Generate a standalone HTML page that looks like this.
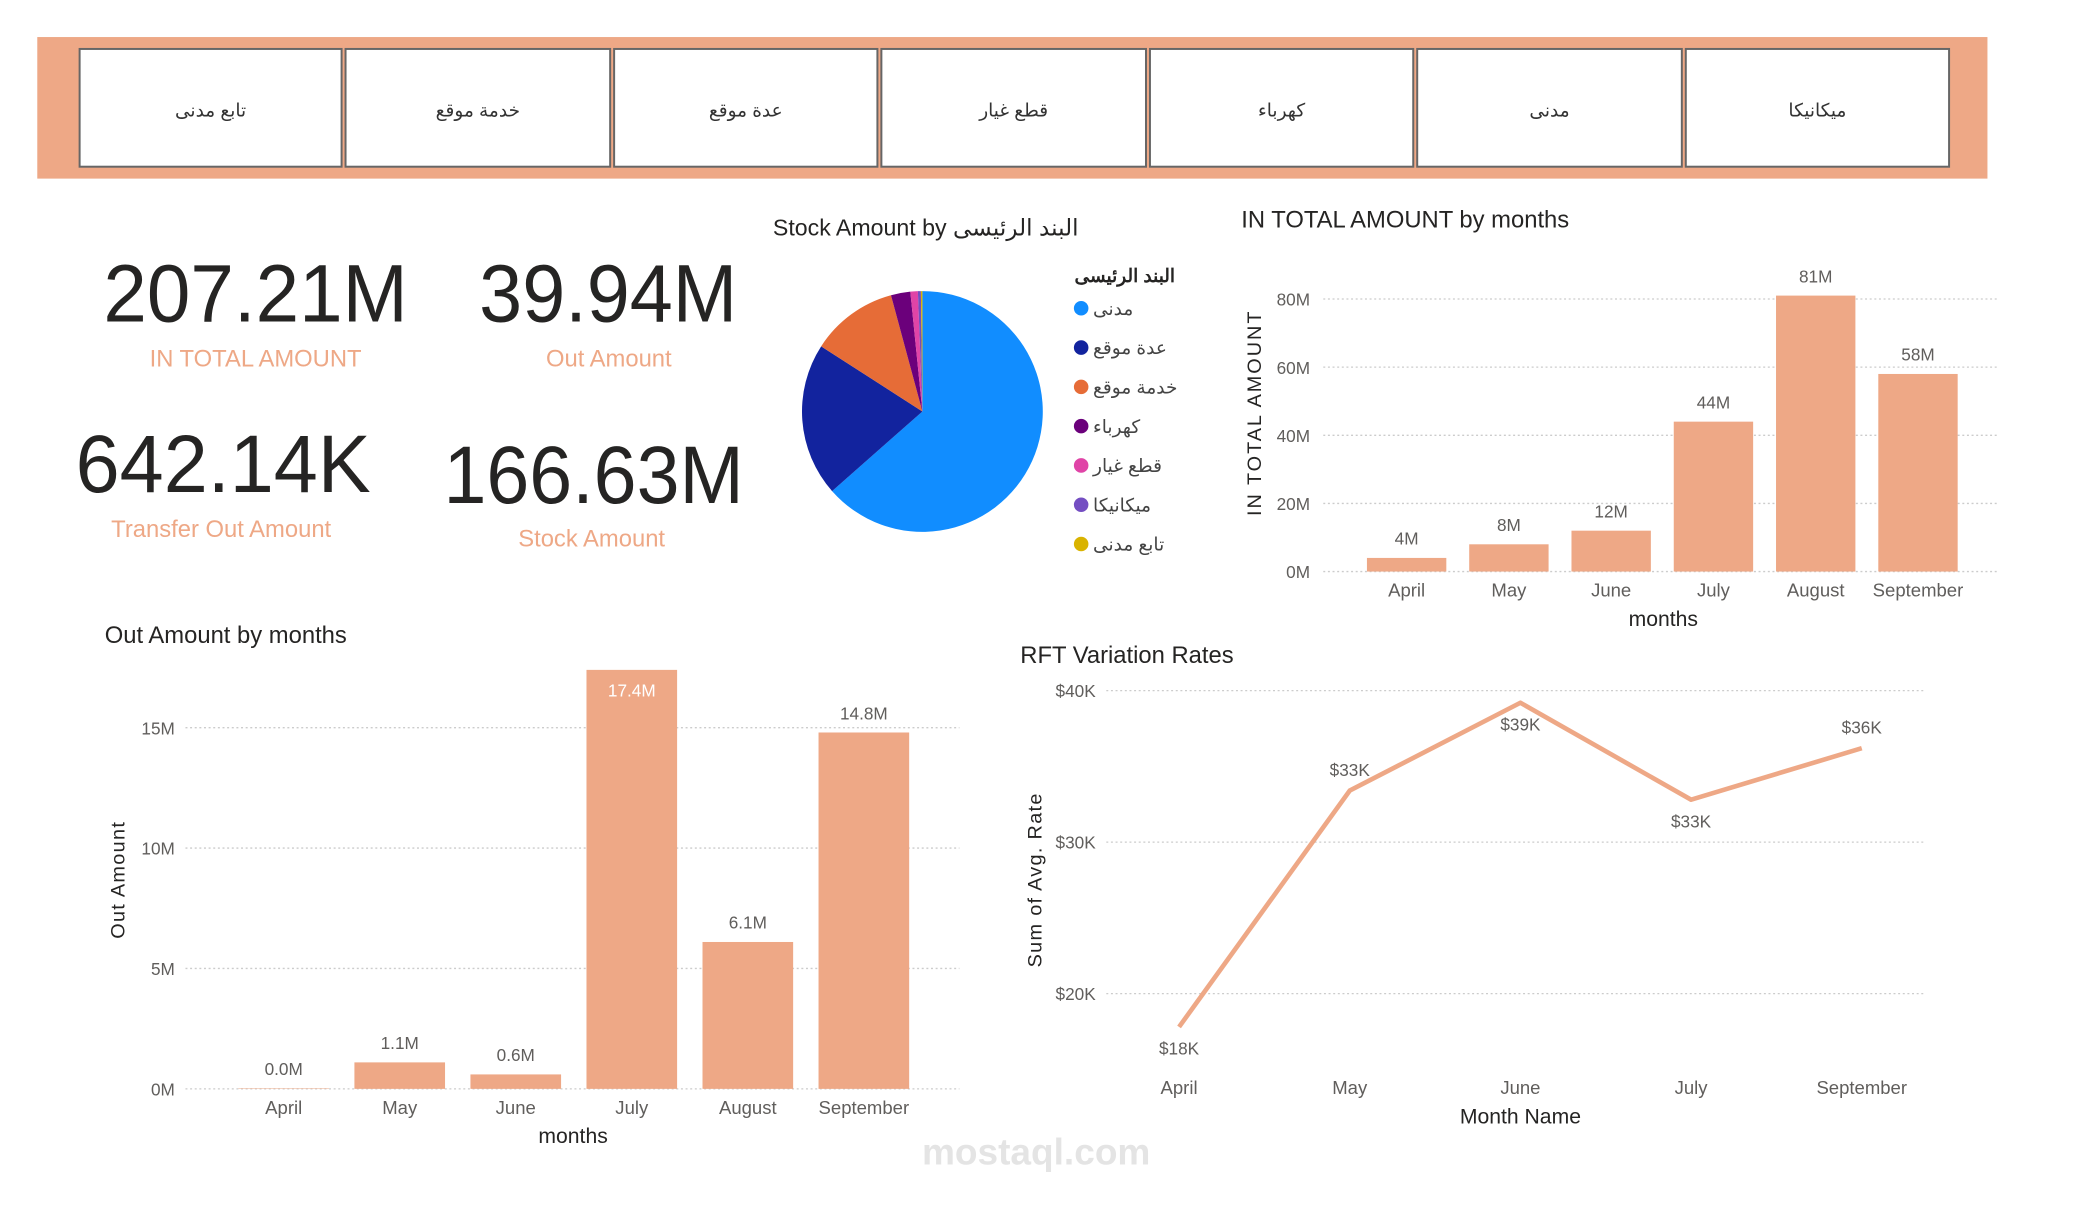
<!DOCTYPE html>
<html><head><meta charset="utf-8">
<style>
html,body{margin:0;padding:0;background:#fff;}
body{width:2075px;height:1200px;overflow:hidden;font-family:"Liberation Sans","Noto Sans CJK SC",sans-serif;}
svg text{font-family:"Liberation Sans","Noto Sans CJK SC",sans-serif;}
</style></head>
<body>
<svg id="dash" width="2075" height="1200" viewBox="0 0 1568 907" xmlns="http://www.w3.org/2000/svg">
  <rect x="28" y="28" width="1474" height="107" fill="#EEA886"/>
  <g id="slicers"></g>
  <g id="kpis"></g>
  <g id="pie"></g>
  <g id="inChart"></g>
  <g id="outChart"></g>
  <g id="rftChart"></g>
  <text x="783" y="880" text-anchor="middle" font-size="28" fill="#e4e4e4" font-weight="bold">mostaql.com</text>
</svg>
<script>
const slicerLabels=["تابع مدنى","خدمة موقع","عدة موقع","قطع غيار","كهرباء","مدنى","ميكانيكا"];
const pieCats=["مدنى","عدة موقع","خدمة موقع","كهرباء","قطع غيار","ميكانيكا","تابع مدنى"];
const pieValues=[63.5,20.6,11.7,2.6,1.0,0.4,0.2];
const pieColors=["#118DFF","#12239E","#E66C37","#6B007B","#E044A7","#744EC2","#D9B300"];
const inMonths=["April","May","June","July","August","September"];
const inValues=[4,8,12,44,81,58];
const inTicks=[0,20,40,60,80];
const outMonths=["April","May","June","July","August","September"];
const outValues=[0.02,1.1,0.6,17.4,6.1,14.8];
const outLabels=["0.0M","1.1M","0.6M","17.4M","6.1M","14.8M"];
const outTicks=[0,5,10,15];
const rftMonths=["April","May","June","July","September"];
const rftValues=[17.8,33.4,39.2,32.8,36.2];
const rftLabels=["$18K","$33K","$39K","$33K","$36K"];
const rftTicks=[20,30,40];

const NS="http://www.w3.org/2000/svg";
function mk(parent,tag,attrs,txt){const e=document.createElementNS(NS,tag);for(const k in attrs)e.setAttribute(k,attrs[k]);if(txt!==undefined)e.textContent=txt;parent.appendChild(e);return e;}
const ACC="#EEA886";

const sl=document.getElementById('slicers');
const sx=[60,261,464,666,869,1071,1274];
slicerLabels.forEach((t,i)=>{
  const w=(i<6?sx[i+1]-3:1473)-sx[i];
  const r=mk(sl,'rect',{x:sx[i],y:37,width:w,height:89,fill:'#fff',stroke:'#666','stroke-width':1.5});
  
  
  const tx=mk(sl,'text',{x:sx[i]+w/2,y:88,'text-anchor':'middle','font-size':14,fill:'#333'},t);
  
  
});

const kp=document.getElementById('kpis');
const kpis=[["207.21M",78,243,230,"IN TOTAL AMOUNT",193,277],["39.94M",362,243,195,"Out Amount",460,277],["642.14K",57,372,223,"Transfer Out Amount",167,406],["166.63M",335,380,227,"Stock Amount",447,413]];
kpis.forEach(k=>{
  const v=mk(kp,'text',{x:k[1],y:k[2],'font-size':62,fill:'#252423',textLength:k[3],lengthAdjust:'spacingAndGlyphs'},k[0]);
  
  
  const l=mk(kp,'text',{x:k[5],y:k[6],'text-anchor':'middle','font-size':18,fill:ACC},k[4]);
  
  
});

const pg=document.getElementById('pie');
const pt=mk(pg,'text',{x:584,y:178,'font-size':17.5,fill:'#252423'},'Stock Amount by البند الرئيسى');


const cx=697,cy=311,R=91;const tot=pieValues.reduce((a,b)=>a+b,0);let ang=0;
pieValues.forEach((v,i)=>{
  const a0=ang,a1=ang+v/tot*2*Math.PI;ang=a1;
  const x0=cx+R*Math.sin(a0),y0=cy-R*Math.cos(a0),x1=cx+R*Math.sin(a1),y1=cy-R*Math.cos(a1);
  const p=mk(pg,'path',{d:`M${cx},${cy}L${x0},${y0}A${R},${R} 0 ${a1-a0>Math.PI?1:0} 1 ${x1},${y1}Z`,fill:pieColors[i]});
  
  
});
const lt=mk(pg,'text',{x:888,y:213,'text-anchor':'end','font-size':14,'font-weight':'bold',fill:'#252423'},'البند الرئيسى');


pieCats.forEach((c,i)=>{
  const y=233+i*29.7;
  const d=mk(pg,'circle',{cx:817,cy:y,r:5.5,fill:pieColors[i]});
  
  
  const t=mk(pg,'text',{x:826,y:y+5,'font-size':14,fill:'#444'},c);
  
  
});

function barChart(g,o){
  const y=v=>o.y0-v*o.ppu;
  const tt=mk(g,'text',{x:o.tx,y:o.ty,'font-size':18,fill:'#252423'},o.title);
  
  
  o.ticks.forEach(t=>{
    const gl=mk(g,'line',{x1:o.gx0,x2:o.gx1,y1:y(t),y2:y(t),stroke:'#ccc','stroke-dasharray':'1.5 2','stroke-width':1});
    
    
    const tl=mk(g,'text',{x:o.lx,y:y(t)+5,'text-anchor':'end','font-size':13,fill:'#605E5C'},t+'M');
    
    
  });
  o.cats.forEach((c,i)=>{
    const bx=o.b0+i*o.step;const v=o.vals[i];
    const b=mk(g,'rect',{x:bx,y:y(v),width:o.bw,height:v*o.ppu,fill:ACC});
    
    
    const inside=o.inside&&o.inside[i];
    const dl=mk(g,'text',{x:bx+o.bw/2,y:inside?y(v)+20:y(v)-10,'text-anchor':'middle','font-size':13,fill:inside?'#fff':'#605E5C'},o.labels[i]);
    
    
    const xl=mk(g,'text',{x:bx+o.bw/2,y:o.y0+19,'text-anchor':'middle','font-size':14,fill:'#605E5C'},c);
    
    
  });
  const xt=mk(g,'text',{x:o.xtx,y:o.y0+41,'text-anchor':'middle','font-size':16,fill:'#252423'},'months');
  
  
  const yt=mk(g,'text',{x:0,y:0,'text-anchor':'middle','font-size':15,fill:'#252423','letter-spacing':o.ls,transform:`translate(${o.ytx},${o.yty}) rotate(-90)`},o.ytitle);
  
  
}
barChart(document.getElementById('inChart'),{title:'IN TOTAL AMOUNT by months',tx:938,ty:172,y0:432,ppu:2.575,ticks:inTicks,gx0:1000,gx1:1510,lx:990,cats:inMonths,vals:inValues,labels:inValues.map(v=>v+'M'),b0:1033,step:77.3,bw:60,xtx:1257,ytitle:'IN TOTAL AMOUNT',ytx:953,yty:312,ls:1.5});
barChart(document.getElementById('outChart'),{title:'Out Amount by months',tx:79,ty:486,y0:823,ppu:18.2,ticks:outTicks,gx0:140,gx1:725,lx:132,cats:outMonths,vals:outValues,labels:outLabels,inside:[0,0,0,1,0,0],b0:180,step:87.7,bw:68.5,xtx:433,ytitle:'Out Amount',ytx:94,yty:665,ls:1});

const rg=document.getElementById('rftChart');
const ry=v=>751-(v-20)*11.45;const rx=i=>891+i*129;
const rt=mk(rg,'text',{x:771,y:501,'font-size':18,fill:'#252423'},'RFT Variation Rates');


rftTicks.forEach(t=>{
  const gl=mk(rg,'line',{x1:836,x2:1455,y1:ry(t),y2:ry(t),stroke:'#ccc','stroke-dasharray':'1.5 2'});
  
  
  const tl=mk(rg,'text',{x:828,y:ry(t)+5,'text-anchor':'end','font-size':13,fill:'#605E5C'},'$'+t+'K');
  
  
});
const ln=mk(rg,'polyline',{points:rftValues.map((v,i)=>rx(i)+','+ry(v)).join(' '),fill:'none',stroke:ACC,'stroke-width':3.5,'stroke-linejoin':'round'});


const below=[1,0,1,1,0];
rftMonths.forEach((m,i)=>{
  const dl=mk(rg,'text',{x:rx(i),y:below[i]?ry(rftValues[i])+21:ry(rftValues[i])-11,'text-anchor':'middle','font-size':13,fill:'#605E5C'},rftLabels[i]);
  
  
  const xl=mk(rg,'text',{x:rx(i),y:827,'text-anchor':'middle','font-size':14,fill:'#605E5C'},m);
  
  
});
const rxt=mk(rg,'text',{x:1149,y:849,'text-anchor':'middle','font-size':16,fill:'#252423'},'Month Name');


const ryt=mk(rg,'text',{x:0,y:0,'text-anchor':'middle','font-size':15,fill:'#252423','letter-spacing':1,transform:'translate(787,665) rotate(-90)'},'Sum of Avg. Rate');


</script>
</body></html>
